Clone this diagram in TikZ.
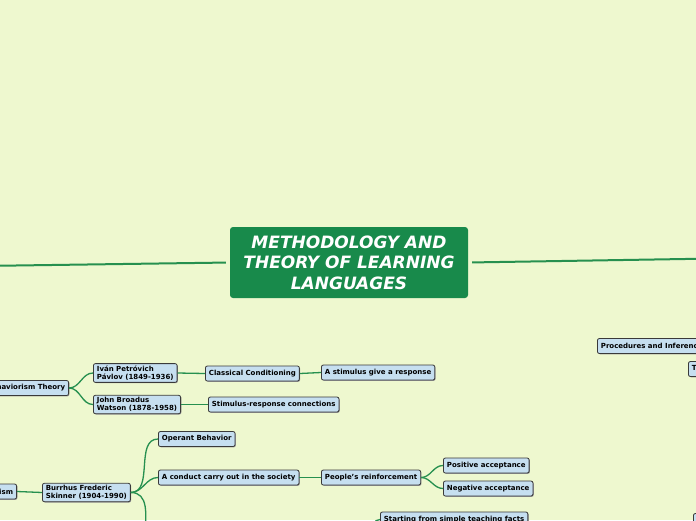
\documentclass[tikz,border=0pt]{standalone}
\usepackage{fontspec}
\setsansfont{DejaVu Sans}
\usetikzlibrary{positioning, shadows}
\definecolor{Paper}{HTML}{EEF8CF}
\definecolor{Root}{HTML}{188A4B}
\definecolor{Topic}{HTML}{C6DFF0}
\definecolor{Edge}{HTML}{3A3A3A}
\definecolor{Branch}{HTML}{26904F}
\tikzset{
    rootnode/.style={rectangle, rounded corners=3pt, fill=Root, text=white, align=center,
        minimum width=238pt, minimum height=71pt,
        font=\sffamily\bfseries\itshape\fontsize{17}{20.5}\selectfont},
    topic/.style={rectangle, rounded corners=2pt, fill=Topic, draw=Edge, line width=0.8pt,
        text=black, align=left, inner xsep=3.5pt, inner ysep=2pt, minimum height=15pt,
        font=\sffamily\bfseries\fontsize{7}{8.2}\selectfont,
        drop shadow={shadow xshift=0.8pt, shadow yshift=-0.8pt, fill=gray!80, opacity=1}},
    branch/.style={Branch, line width=1.3pt},
    trunk/.style={Branch, line width=2pt},
}
\begin{document}
\begin{tikzpicture}[x=1pt, y=-1pt]
                \fill[Paper] (0,0) rectangle (696,520);
                \useasboundingbox (0,0) rectangle (696,520);
                
                % Centro
                \node[rootnode] (root) at (349,262.5) {METHODOLOGY AND\\THEORY OF LEARNING\\LANGUAGES};
                \coordinate (leftend) at (-20,266);
                \coordinate (rightend) at (716,258.5);
                \draw[trunk, shorten >=4pt] (leftend) -- (root.west);
                \draw[trunk, shorten <=4pt] (root.east) -- (rightend);
                
                % Pavlov e Watson
                \node[topic, anchor=east] (behav) at (69,388) {Behaviorism Theory};
                \node[topic, anchor=west] (pavlov) at (93,373) {Iván Petróvich\\Pávlov (1849-1936)};
                \node[topic, anchor=west] (watson) at (93,404.5) {John Broadus\\Watson (1878-1958)};
                \node[topic, anchor=west] (classic) at (205,373.5) {Classical Conditioning};
                \node[topic, anchor=west] (stimresp) at (321,372.5) {A stimulus give a response};
                \node[topic, anchor=west] (connect) at (208,404.5) {Stimulus-response connections};
                
                \draw[branch] (behav.east) to[out=0, in=180] (pavlov.west);
                \draw[branch] (behav.east) to[out=0, in=180] (watson.west);
                \draw[branch] (pavlov.east) -- (classic.west);
                \draw[branch] (classic.east) -- (stimresp.west);
                \draw[branch] (watson.east) -- (connect.west);
                
                % Skinner
                \node[topic, anchor=east] (neobehav) at (17,491.5) {Neobehaviorism};
                \node[topic, anchor=west] (skinner) at (42,492.5) {Burrhus Frederic\\Skinner (1904-1990)};
                \node[topic, anchor=west] (operant) at (158,439) {Operant Behavior};
                \node[topic, anchor=west] (conduct) at (158,477.5) {A conduct carry out in the society};
                \node[topic, anchor=west] (reinforce) at (321,477.5) {People's reinforcement};
                \node[topic, anchor=west] (positive) at (443,465.5) {Positive acceptance};
                \node[topic, anchor=west] (negative) at (443,488.5) {Negative acceptance};
                \node[topic, anchor=west] (simple) at (380,519.5) {Starting from simple teaching facts};
                \coordinate (skinnerlow) at (158,580);
                \coordinate (simplefrom) at (362,545);
                
                \draw[branch] (neobehav.east) -- (skinner.west);
                \draw[branch] (skinner.east) to[out=0, in=180] (operant.west);
                \draw[branch] (skinner.east) to[out=0, in=180] (conduct.west);
                \draw[branch] (skinner.east) to[out=0, in=180] (skinnerlow);
                \draw[branch] (conduct.east) -- (reinforce.west);
                \draw[branch] (reinforce.east) to[out=0, in=180] (positive.west);
                \draw[branch] (reinforce.east) to[out=0, in=180] (negative.west);
                \draw[branch] (simplefrom) to[out=0, in=180] (simple.west);
                
                % Lato destro
                \node[topic, anchor=west] (proced) at (597,346) {Procedures and Inferences};
                \node[topic, anchor=west] (tnode) at (688,369) {Theory};
                \node[topic, anchor=west] (corner) at (693,521) {Theory};
                
            \end{tikzpicture}
\end{document}
